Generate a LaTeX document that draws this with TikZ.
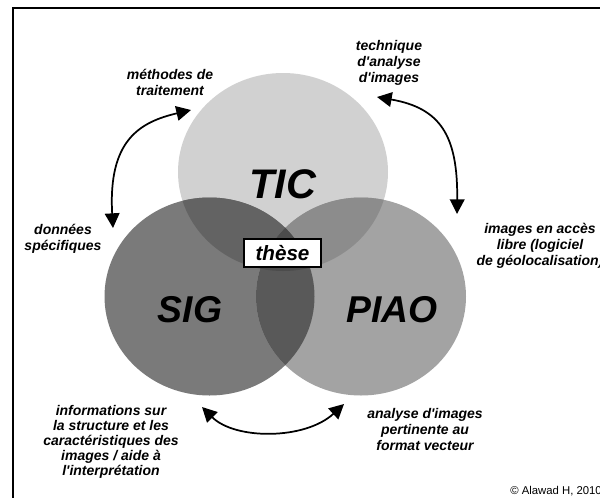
\documentclass[tikz,border=0pt]{standalone}
\usepackage{fontspec}
\newfontfamily\diafont{Liberation Sans}
\definecolor{ticgray}{gray}{0.82}
\definecolor{siggray}{gray}{0.48}
\definecolor{piaogray}{gray}{0.64}
\definecolor{ticsig}{gray}{0.39}
\definecolor{ticpiao}{gray}{0.55}
\definecolor{sigpiao}{gray}{0.35}
\definecolor{allgray}{gray}{0.30}
\usetikzlibrary{arrows.meta}

\begin{document}
\begin{tikzpicture}[x=0.75pt, y=-0.75pt,
    lbl/.style={font=\diafont\bfseries\itshape\fontsize{10.5}{12}\selectfont, align=center, inner sep=0pt},
    biglbl/.style={font=\diafont\bfseries\itshape\fontsize{28}{30}\selectfont, inner sep=0pt},
    link/.style={{Triangle[length=11pt,width=11pt]}-{Triangle[length=11pt,width=11pt]}, line width=1.3pt}]

    % Canvas and frame
    \useasboundingbox (0,0) rectangle (600,497);
    \clip (0,0) rectangle (600,497);
    \fill[white] (0,0) rectangle (600,497);
    \draw[line width=2pt] (13,8) rectangle (640,540);

    % Circles
    \coordinate (tic) at (283,172);
    \coordinate (sig) at (209.5,296.5);
    \coordinate (piao) at (361,296.5);
    \fill[ticgray] (tic) ellipse [x radius=78.75pt, y radius=74.25pt];
    \fill[siggray] (sig) ellipse [x radius=78.75pt, y radius=74.25pt];
    \fill[piaogray] (piao) ellipse [x radius=78.75pt, y radius=74.25pt];

    % Overlaps
    \begin{scope}
        \clip (tic) ellipse [x radius=78.75pt, y radius=74.25pt];
        \fill[ticsig] (sig) ellipse [x radius=78.75pt, y radius=74.25pt];
        \fill[ticpiao] (piao) ellipse [x radius=78.75pt, y radius=74.25pt];
    \end{scope}
    \begin{scope}
        \clip (sig) ellipse [x radius=78.75pt, y radius=74.25pt];
        \fill[sigpiao] (piao) ellipse [x radius=78.75pt, y radius=74.25pt];
        \clip (tic) ellipse [x radius=78.75pt, y radius=74.25pt];
        \fill[allgray] (piao) ellipse [x radius=78.75pt, y radius=74.25pt];
    \end{scope}

    % Circle names
    \node[biglbl, font=\diafont\bfseries\itshape\fontsize{31}{33}\selectfont] (ticlabel) at (283,184) {TIC};
    \node[biglbl] (siglabel) at (190,310) {SIG};
    \node[biglbl] (piaolabel) at (392,310) {PIAO};
    \node[draw, line width=1.1pt, fill=white, inner sep=0pt, minimum width=58pt, minimum height=21pt,
          font=\diafont\bfseries\itshape\fontsize{15.5}{17}\selectfont] (these) at (282.5,253) {thèse};

    % Labels
    \node[lbl] (methodes) at (170,82) {méthodes de\\traitement};
    \node[lbl] (technique) at (389,63) {technique\\d'analyse\\d'images};
    \node[lbl] (libre) at (540,246) {images en accès\\libre (logiciel\\de géolocalisation)};
    \node[lbl] (donnees) at (63,239) {données\\spécifiques};
    \node[lbl, font=\diafont\bfseries\itshape\fontsize{10.5}{11.3}\selectfont] (infos) at (111,442)
        {informations sur\\la structure et les\\caractéristiques des\\images / aide à\\l'interprétation};
    \node[lbl] (analyse) at (425,429) {analyse d'images\\pertinente au\\format vecteur};
    \node[font=\diafont\fontsize{8.5}{10}\selectfont, anchor=base west, inner sep=0pt] (credit) at (510,494) {© Alawad H, 2010};

    % Links
    \coordinate (methtip) at (191,110);
    \coordinate (dontip) at (113,228);
    \draw[link] (dontip) .. controls (108,140) and (140,122) .. (methtip);

    \coordinate (techtip) at (377,97);
    \coordinate (libtip) at (457,214);
    \draw[link] (techtip) .. controls (440,108) and (458,135) .. (libtip);

    \coordinate (infotip) at (202,407);
    \coordinate (analtip) at (344,404);
    \draw[link] (infotip) .. controls (235,440) and (305,440) .. (analtip);
\end{tikzpicture}
\end{document}
